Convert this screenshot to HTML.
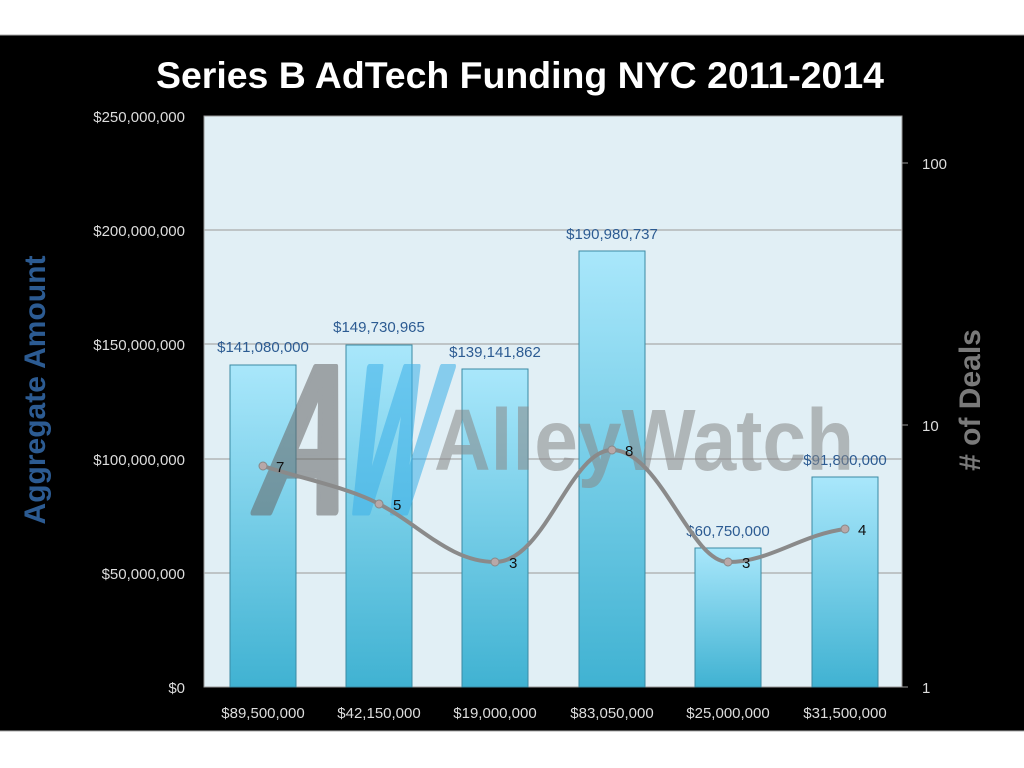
<!DOCTYPE html>
<html><head><meta charset="utf-8"><style>html,body{margin:0;padding:0;background:#fff}svg{display:block}</style></head>
<body>
<svg width="1024" height="768" xmlns="http://www.w3.org/2000/svg" font-family="Liberation Sans, sans-serif">
<defs>
<linearGradient id="bar" x1="0" y1="0" x2="0" y2="1">
<stop offset="0" stop-color="#a9e7fb"/><stop offset="1" stop-color="#40b2d2"/>
</linearGradient>
</defs>
<rect x="0" y="0" width="1024" height="768" fill="#fff"/>
<rect x="0" y="35" width="1024" height="696" fill="#000"/>
<line x1="0" y1="35" x2="1024" y2="35" stroke="#aaa"/>
<line x1="0" y1="731" x2="1024" y2="731" stroke="#aaa"/>
<text x="520" y="88" text-anchor="middle" fill="#fff" font-size="37" font-weight="bold" textLength="728" lengthAdjust="spacingAndGlyphs">Series B AdTech Funding NYC 2011-2014</text>
<rect x="204" y="116" width="698" height="571" fill="#e1eff5" stroke="#999"/>
<g stroke="#aaa" stroke-width="1.2">
<line x1="204" y1="230" x2="902" y2="230"/><line x1="204" y1="344" x2="902" y2="344"/>
<line x1="204" y1="459" x2="902" y2="459"/><line x1="204" y1="573" x2="902" y2="573"/>
</g>
<g fill="#ddd" font-size="15" text-anchor="end">
<text x="185" y="122">$250,000,000</text><text x="185" y="236">$200,000,000</text>
<text x="185" y="350">$150,000,000</text><text x="185" y="465">$100,000,000</text>
<text x="185" y="579">$50,000,000</text><text x="185" y="693">$0</text>
</g>
<g stroke="#999"><line x1="902" y1="163" x2="908" y2="163"/><line x1="902" y1="425" x2="908" y2="425"/><line x1="902" y1="687" x2="908" y2="687"/></g>
<g fill="#ddd" font-size="15"><text x="922" y="169">100</text><text x="922" y="431">10</text><text x="922" y="693">1</text></g>
<text transform="translate(45,390) rotate(-90)" text-anchor="middle" fill="#2c5b92" font-size="30" font-weight="bold">Aggregate  Amount</text>
<text transform="translate(980,400) rotate(-90)" text-anchor="middle" fill="#7a7a7a" font-size="30" font-weight="bold"># of Deals</text>
<g stroke="#3a8aa3" stroke-width="1">
<rect x="230" y="365" width="66" height="322" fill="url(#bar)"/>
<rect x="346" y="345" width="66" height="342" fill="url(#bar)"/>
<rect x="462" y="369" width="66" height="318" fill="url(#bar)"/>
<rect x="579" y="251" width="66" height="436" fill="url(#bar)"/>
<rect x="695" y="548" width="66" height="139" fill="url(#bar)"/>
<rect x="812" y="477" width="66" height="210" fill="url(#bar)"/>
</g>
<g fill="#2c5b92" font-size="15" text-anchor="middle">
<text x="263" y="352">$141,080,000</text><text x="379" y="332">$149,730,965</text>
<text x="495" y="357">$139,141,862</text><text x="612" y="239">$190,980,737</text>
<text x="728" y="536">$60,750,000</text><text x="845" y="465">$91,800,000</text>
</g>
<g opacity="0.55">
<g transform="translate(0,515) skewX(-12) translate(0,-515)">
<text x="249" y="512" font-weight="bold" font-size="210" fill="#666" stroke="#666" stroke-width="7" stroke-linejoin="round" textLength="90" lengthAdjust="spacingAndGlyphs">A</text>
<text x="337" y="512" font-weight="bold" font-size="210" fill="#3cb0e8" stroke="#3cb0e8" stroke-width="7" stroke-linejoin="round" textLength="86" lengthAdjust="spacingAndGlyphs">W</text>
</g>
<text x="434" y="470" font-weight="bold" font-size="87" fill="#888" textLength="420" lengthAdjust="spacingAndGlyphs">AlleyWatch</text>
</g>
<path d="M263,466 C300,478 350,488 379,504 C420,525 450,562 495,562 C545,562 570,450 612,450 C660,450 690,562 728,562 C770,562 800,535 845,529" fill="none" stroke="#8a8a8a" stroke-width="4"/>
<g fill="#b8a8a8" stroke="#888"><circle cx="263" cy="466" r="4"/><circle cx="379" cy="504" r="4"/><circle cx="495" cy="562" r="4"/><circle cx="612" cy="450" r="4"/><circle cx="728" cy="562" r="4"/><circle cx="845" cy="529" r="4"/></g>
<g fill="#111" font-size="15"><text x="276" y="472">7</text><text x="393" y="510">5</text><text x="509" y="568">3</text><text x="625" y="456">8</text><text x="742" y="568">3</text><text x="858" y="535">4</text></g>
<g fill="#ddd" font-size="15" text-anchor="middle">
<text x="263" y="718">$89,500,000</text><text x="379" y="718">$42,150,000</text><text x="495" y="718">$19,000,000</text>
<text x="612" y="718">$83,050,000</text><text x="728" y="718">$25,000,000</text><text x="845" y="718">$31,500,000</text>
</g>
</svg>
</body></html>
